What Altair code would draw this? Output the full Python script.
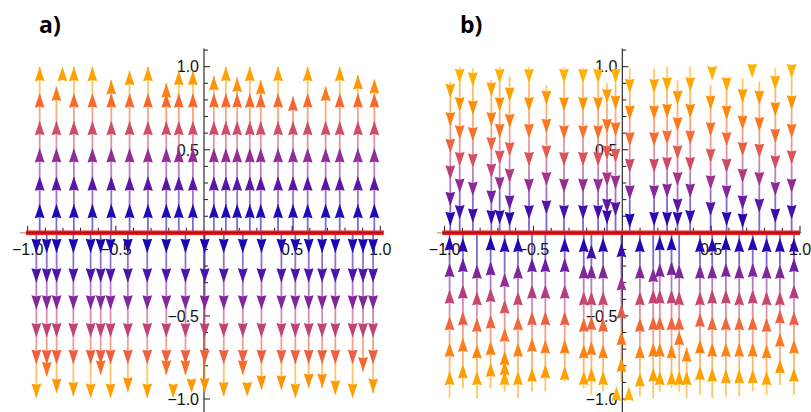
import altair as alt
import pandas as pd

# ---------------- data ----------------
# Panel a) : streamlines leave the x-axis (arrows point away from y = 0)
A_TOP_X = [-0.932, -0.837, -0.738, -0.633, -0.526, -0.422, -0.318, -0.214, -0.143, -0.063,
           0.056, 0.124, 0.188, 0.260, 0.322, 0.420, 0.505, 0.588, 0.690, 0.770, 0.873, 0.966]
A_TOP_END = [1.0, 0.88, 1.0, 1.0, 0.92, 0.976, 1.0, 0.90, 0.976, 0.976,
             0.944, 1.0, 0.935, 1.0, 0.92, 1.0, 0.82, 1.0, 0.88, 1.0, 0.95, 0.924]
A_TOP_ROWS = [0.175, 0.34, 0.51, 0.675, 0.84]
A_TOP_STRAY_X = [-0.803]
A_TOP_STRAY_Y = [1.0]

A_BOT_X = [-0.951, -0.892, -0.836, -0.741, -0.643, -0.586, -0.530, -0.432, -0.322, -0.214, -0.105, 0.004,
           0.112, 0.220, 0.326, 0.439, 0.518, 0.594, 0.670, 0.745, 0.843, 0.902, 0.959]
A_BOT_END = [-0.994, -0.864, -0.964, -0.984, -0.994, -0.854, -0.994, -0.956, -0.994, -0.854, -0.854, -0.96,
             -0.984, -0.854, -0.944, -0.944, -0.994, -0.934, -0.934, -0.974, -0.994, -0.834, -0.964]
A_BOT_ROWS = [-0.122, -0.30, -0.463, -0.63, -0.79]
A_BOT_STRAY_X = [-0.175, -0.071, 0.245]
A_BOT_STRAY_Y = [-0.994, -0.964, -0.984]

# Panel b) : streamlines run into the x-axis (arrows point towards y = 0)
B_TOP_X = [-0.968, -0.915, -0.841, -0.737, -0.690, -0.634, -0.525, -0.427, -0.328, -0.221, -0.136, -0.086,
           -0.038, 0.042, 0.179, 0.252, 0.311, 0.382, 0.497, 0.587, 0.677, 0.771, 0.861, 0.953]
B_TOP_START = [0.91, 1.0, 0.99, 0.92, 1.0, 0.94, 1.0, 0.89, 0.995, 0.99, 1.0, 0.90,
               1.0, 0.99, 0.99, 1.0, 0.917, 1.0, 0.89, 0.92, 0.93, 0.91, 0.99, 1.0]
B_TOP_TIPS = [
    [0.81, 0.64, 0.48, 0.32, 0.16, 0.04],
    [0.90, 0.73, 0.56, 0.40, 0.24, 0.08],
    [0.88, 0.71, 0.55, 0.39, 0.22, 0.06],
    [0.82, 0.64, 0.49, 0.33, 0.17, 0.05],
    [0.90, 0.73, 0.57, 0.41, 0.25, 0.05],
    [0.79, 0.63, 0.46, 0.30, 0.14, 0.04],
    [0.90, 0.73, 0.57, 0.40, 0.24, 0.08],
    [0.77, 0.60, 0.44, 0.28, 0.11],
    [0.90, 0.73, 0.56, 0.40, 0.24, 0.08],
    [0.90, 0.73, 0.56, 0.40, 0.24, 0.08],
    [0.90, 0.73, 0.56, 0.40, 0.24, 0.08],
    [0.78, 0.60, 0.44, 0.28, 0.12, 0.05],
    [0.90, 0.74, 0.58, 0.42, 0.26, 0.10],
    [0.84, 0.68, 0.52, 0.36, 0.20, 0.03],
    [0.84, 0.68, 0.52, 0.36, 0.20, 0.04],
    [0.85, 0.69, 0.53, 0.37, 0.21, 0.04],
    [0.77, 0.61, 0.44, 0.28, 0.12, 0.04],
    [0.85, 0.69, 0.53, 0.37, 0.21, 0.05],
    [0.74, 0.58, 0.42, 0.26, 0.10],
    [0.85, 0.68, 0.52, 0.36, 0.20, 0.04],
    [0.78, 0.62, 0.46, 0.30, 0.14, 0.03],
    [0.77, 0.61, 0.45, 0.28, 0.12],
    [0.86, 0.70, 0.54, 0.38, 0.22, 0.06],
    [0.93, 0.74, 0.57, 0.41, 0.24, 0.08],
]
B_TOP_STRAY_X = [0.506, 0.731]
B_TOP_STRAY_Y = [0.917, 0.931]

B_BOT_X = [-0.972, -0.897, -0.818, -0.741, -0.662, -0.587, -0.508, -0.433, -0.324, -0.217, -0.174, -0.108,
           -0.005, 0.099, 0.174, 0.211, 0.277, 0.320, 0.362, 0.437, 0.506, 0.583, 0.658, 0.734, 0.812,
           0.887, 0.966]
B_BOT_END = [-0.995, -0.935, -0.995, -0.935, -0.955, -0.995, -0.955, -0.955, -0.895, -0.935, -0.975, -0.955,
             -0.90, -0.985, -0.995, -0.955, -0.935, -0.955, -0.995, -0.975, -0.995, -0.985, -0.985, -0.955,
             -0.975, -0.915, -0.975]
B_BOT_INNER = [0.0] * 18 + [-0.69] + [0.0] * 8
B_BOT_TIPS = [
    [-0.02, -0.18, -0.34, -0.50, -0.66, -0.83],
    [-0.03, -0.15, -0.31, -0.47, -0.63, -0.79],
    [-0.19, -0.35, -0.51, -0.67, -0.83],
    [-0.02, -0.17, -0.33, -0.49, -0.65, -0.78],
    [-0.03, -0.24, -0.40, -0.57, -0.71, -0.77, -0.83],
    [-0.03, -0.19, -0.35, -0.50, -0.66, -0.83],
    [-0.15, -0.31, -0.47, -0.63, -0.81],
    [-0.15, -0.31, -0.47, -0.64, -0.79],
    [-0.03, -0.15, -0.31, -0.47, -0.64, -0.80],
    [-0.03, -0.19, -0.35, -0.51, -0.67, -0.83],
    [-0.07, -0.19, -0.35, -0.50, -0.65, -0.81],
    [-0.03, -0.19, -0.35, -0.51, -0.67, -0.83],
    [-0.06, -0.26, -0.43, -0.59, -0.75],
    [-0.03, -0.19, -0.35, -0.51, -0.67, -0.84],
    [-0.21, -0.34, -0.50, -0.66, -0.81],
    [-0.02, -0.18, -0.34, -0.50, -0.66, -0.83],
    [-0.02, -0.17, -0.34, -0.50, -0.67, -0.83],
    [-0.19, -0.35, -0.50, -0.59, -0.83],
    [-0.69, -0.83],
    [-0.03, -0.19, -0.35, -0.48, -0.64, -0.80],
    [-0.03, -0.19, -0.34, -0.50, -0.66, -0.81],
    [-0.02, -0.18, -0.34, -0.50, -0.66, -0.82],
    [-0.03, -0.19, -0.35, -0.50, -0.66, -0.82],
    [-0.02, -0.18, -0.34, -0.50, -0.66, -0.82],
    [-0.03, -0.19, -0.35, -0.51, -0.67, -0.83],
    [-0.03, -0.19, -0.35, -0.46, -0.60, -0.76],
    [-0.03, -0.15, -0.31, -0.47, -0.64, -0.81],
]
B_BOT_STRAY_X = [-0.033, 0.037]
B_BOT_STRAY_Y = [-0.925, -0.925]

# colour ramps (|field| -> colour)
A_STOPS = [0.0, 0.175, 0.34, 0.51, 0.675, 0.84, 0.92, 1.0]
A_COLORS = ["#1800a8", "#1e0cb4", "#5a16a8", "#922c96", "#d04c68", "#f8682a", "#ff8c0c", "#ffa200"]
B_STOPS = [0.0, 0.04, 0.10, 0.19, 0.26, 0.35, 0.43, 0.51, 0.60, 0.70, 0.80, 0.90, 1.0]
B_COLORS = ["#1c00b0", "#2c08b0", "#5214aa", "#82269c", "#9c3090", "#c8486e", "#e25850",
            "#f46838", "#fc7820", "#ff8a08", "#ffa000", "#ffb000", "#ffb800"]

# axes
MAJOR_TICKS = [-1.0, -0.5, 0.5, 1.0]
TICK_LABELS = ["\u22121.0", "\u22120.5", "0.5", "1.0"]
X_MINOR = [-0.9, -0.8, -0.7, -0.6, -0.4, -0.3, -0.2, -0.1, 0.1, 0.2, 0.3, 0.4, 0.6, 0.7, 0.8, 0.9]
Y_MINOR = [-0.9, -0.8, -0.7, -0.6, -0.4, -0.3, -0.2, -0.1, 0.1, 0.2, 0.3, 0.4, 0.6, 0.7, 0.8, 0.9, 1.1]

# ---------------- geometry ----------------
H = 412
W_A, W_B = 405, 406
XDOM_A = [-1.1571, 1.1401]
XDOM_B = [-1.2228, 1.0619]
YDOM = [-1.0782, 1.4014]
UP_PATH = "M0,-1L0.68,1L0,0.84L-0.68,1Z"
DN_PATH = "M0,1L0.68,-1L0,-0.84L-0.68,-1Z"
ARROW_SIZE = 210
ARROW_OFF = 7.2


def build_a():
    segs, up, dn = [], [], []
    for x, end in zip(A_TOP_X, A_TOP_END):
        tips = [r for r in A_TOP_ROWS if r < end - 0.05] + [end]
        prev = 0.0
        for t in tips:
            segs.append(dict(x=x, y1=prev, y2=t, c=t))
            up.append(dict(x=x, y=t, c=t))
            prev = t
    for x, y in zip(A_TOP_STRAY_X, A_TOP_STRAY_Y):
        up.append(dict(x=x, y=y, c=y))
    for x, end in zip(A_BOT_X, A_BOT_END):
        tips = [r for r in A_BOT_ROWS if abs(r) < abs(end) - 0.05] + [end]
        prev = 0.0
        for t in tips:
            segs.append(dict(x=x, y1=prev, y2=t, c=abs(t)))
            dn.append(dict(x=x, y=t, c=abs(t)))
            prev = t
    for x, y in zip(A_BOT_STRAY_X, A_BOT_STRAY_Y):
        dn.append(dict(x=x, y=y, c=abs(y)))
    return pd.DataFrame(segs), pd.DataFrame(up), pd.DataFrame(dn)


def build_b():
    segs, up, dn = [], [], []
    for x, start, tips in zip(B_TOP_X, B_TOP_START, B_TOP_TIPS):
        prev = start
        for t in tips:
            segs.append(dict(x=x, y1=prev, y2=t, c=t))
            dn.append(dict(x=x, y=t, c=t))
            prev = t
        segs.append(dict(x=x, y1=prev, y2=0.0, c=0.02))
    for x, y in zip(B_TOP_STRAY_X, B_TOP_STRAY_Y):
        dn.append(dict(x=x, y=y, c=y))
    for x, end, inner, tips in zip(B_BOT_X, B_BOT_END, B_BOT_INNER, B_BOT_TIPS):
        prev = end
        for t in reversed(tips):
            segs.append(dict(x=x, y1=prev, y2=t, c=abs(t)))
            up.append(dict(x=x, y=t, c=abs(t)))
            prev = t
        if inner > prev:
            segs.append(dict(x=x, y1=prev, y2=inner, c=0.02))
    for x, y in zip(B_BOT_STRAY_X, B_BOT_STRAY_Y):
        up.append(dict(x=x, y=y, c=abs(y)))
    return pd.DataFrame(segs), pd.DataFrame(up), pd.DataFrame(dn)


def panel(segs, up, dn, xdom, width, stops, colors, title, title_x, xaxis_ext, red_ext):
    xs = alt.Scale(domain=xdom, nice=False, zero=False)
    ys = alt.Scale(domain=YDOM, nice=False, zero=False)
    cs = alt.Scale(domain=stops, range=colors, interpolate="rgb")

    def X(f):
        return alt.X(f, type="quantitative", scale=xs, axis=None)

    def Y(f):
        return alt.Y(f, type="quantitative", scale=ys, axis=None)

    C = alt.Color("c:Q", scale=cs, legend=None)

    ticks_major = pd.DataFrame({"v": MAJOR_TICKS, "z": [0.0] * 4, "lab": TICK_LABELS})
    xminor = pd.DataFrame({"v": X_MINOR, "z": [0.0] * len(X_MINOR)})
    yminor = pd.DataFrame({"v": Y_MINOR, "z": [0.0] * len(Y_MINOR)})
    xline = pd.DataFrame({"x1": [xaxis_ext[0]], "x2": [xaxis_ext[1]], "y": [0.0]})
    yline = pd.DataFrame({"x": [0.0], "y1": [YDOM[0]], "y2": [1.11]})
    red = pd.DataFrame({"x1": [red_ext[0]], "x2": [red_ext[1]], "y": [0.0]})
    ttl = pd.DataFrame({"t": [title]})

    axis_color = "#1a1a1a"
    layers = [
        alt.Chart(yline).mark_rule(color=axis_color, strokeWidth=1.1).encode(
            x=X("x"), y=Y("y1"), y2=alt.Y2("y2")),
        alt.Chart(yminor).mark_rule(color=axis_color, strokeWidth=1, x2Offset=4).encode(
            x=X("z"), x2=alt.X2("z"), y=Y("v")),
        alt.Chart(ticks_major).mark_rule(color=axis_color, strokeWidth=1, x2Offset=6).encode(
            x=X("z"), x2=alt.X2("z"), y=Y("v")),
        alt.Chart(xminor).mark_rule(color=axis_color, strokeWidth=1, y2Offset=-5).encode(
            x=X("v"), y=Y("z"), y2=alt.Y2("z")),
        alt.Chart(ticks_major).mark_rule(color=axis_color, strokeWidth=1, y2Offset=-7).encode(
            x=X("v"), y=Y("z"), y2=alt.Y2("z")),
        alt.Chart(ticks_major).mark_text(
            align="center", baseline="alphabetic", dy=22, fontSize=16,
            font="Liberation Sans", color="#111111", clip=True).encode(
            x=X("v"), y=Y("z"), text="lab:N"),
        alt.Chart(ticks_major).mark_text(
            align="right", baseline="alphabetic", dx=-5, dy=5.8, fontSize=16,
            font="Liberation Sans", color="#111111", clip=True).encode(
            x=X("z"), y=Y("v"), text="lab:N"),
        alt.Chart(segs).mark_rule(strokeWidth=1.8, opacity=0.6).encode(
            x=X("x"), y=Y("y1"), y2=alt.Y2("y2"), color=C),
        alt.Chart(up).mark_point(shape=UP_PATH, size=ARROW_SIZE, filled=True, opacity=1,
                                 strokeWidth=0, yOffset=ARROW_OFF).encode(
            x=X("x"), y=Y("y"), color=C),
        alt.Chart(dn).mark_point(shape=DN_PATH, size=ARROW_SIZE, filled=True, opacity=1,
                                 strokeWidth=0, yOffset=-ARROW_OFF).encode(
            x=X("x"), y=Y("y"), color=C),
        alt.Chart(red).mark_rule(color="#f41818", strokeWidth=4.5).encode(
            x=X("x1"), x2=alt.X2("x2"), y=Y("y")),
        alt.Chart(xline).mark_rule(color="#000000", strokeWidth=0.8, opacity=0.55).encode(
            x=X("x1"), x2=alt.X2("x2"), y=Y("y")),
        alt.Chart(ttl).mark_text(
            align="left", baseline="alphabetic", fontSize=23, fontWeight="bold",
            font="Open Sans", color="#000000").encode(
            x=alt.value(title_x), y=alt.value(33.3), text="t:N"),
    ]
    return alt.layer(*layers).properties(width=width, height=H)


sa, ua, da = build_a()
sb, ub, db = build_b()

pa = panel(sa, ua, da, XDOM_A, W_A, A_STOPS, A_COLORS, "a)", 39, [-1.045, 1.015], [-1.01, 1.02])
pb = panel(sb, ub, db, XDOM_B, W_B, B_STOPS, B_COLORS, "b)", 55, [-1.043, 1.01], [-1.013, 1.0])

chart = alt.hconcat(pa, pb, spacing=0, bounds="flush").resolve_scale(
    x="independent", y="independent", color="independent"
).configure_view(stroke=None).properties(padding=0, background="white")

chart.save("out.html", embed_options={"renderer": "svg", "actions": False})
